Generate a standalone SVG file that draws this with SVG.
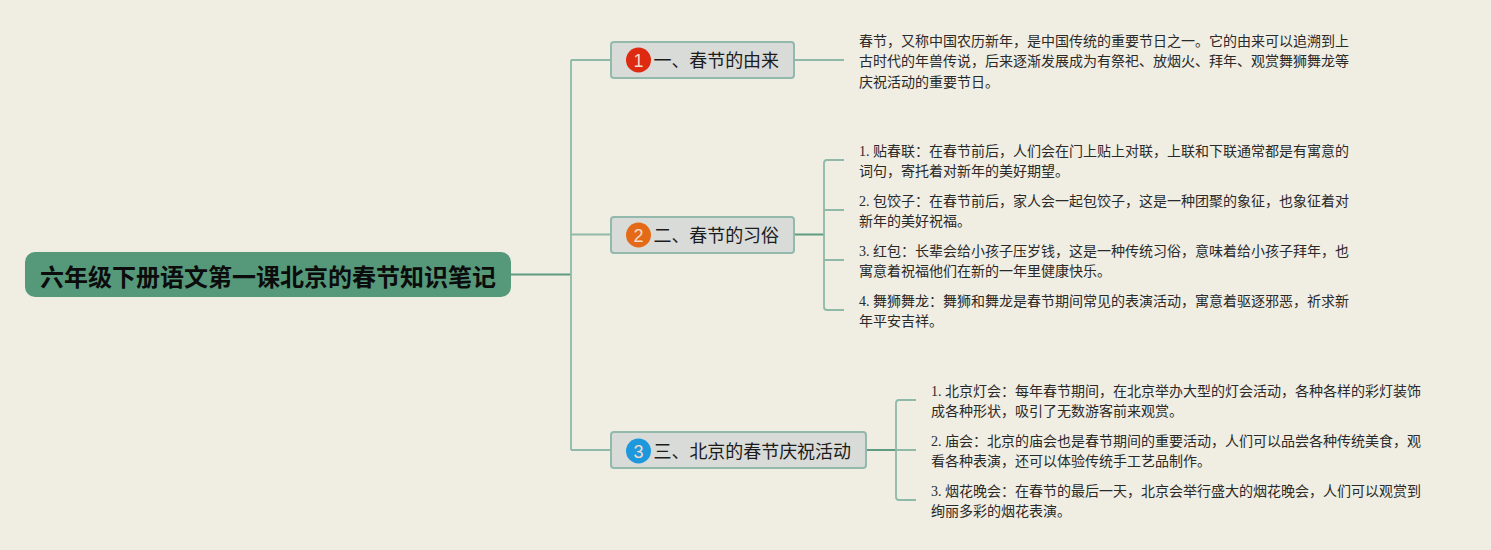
<svg xmlns="http://www.w3.org/2000/svg" width="1491" height="550" viewBox="0 0 1491 550">
<style>
text{font-family:"Liberation Serif","Noto Sans CJK SC",serif}
.root{font-family:"Noto Sans CJK SC",sans-serif;font-size:24px;font-weight:700;fill:#0c0c0c}
.t{font-family:"Noto Sans CJK SC",sans-serif;font-size:18px;fill:#1c1c1c}
.b{fill:#d9dbd9;stroke:#93b9ad;stroke-width:2}
.n{font-size:14px;fill:#2a2a2a}
.num{font-family:"Liberation Sans",sans-serif;font-size:18px;fill:#f3dccb;text-anchor:middle}
.c{fill:none;stroke:#8fb9a8;stroke-width:1.8}
.d{fill:none;stroke:#5f9a82;stroke-width:2}
</style>
<rect width="1491" height="550" fill="#f0ede2"/>
<g id="connectors">
<path class="d" d="M511 274.500H571"/>
<path class="c" d="M571 60V450M571 60H611M571 234.500H611M571 450H611"/>
<path class="c" d="M795 60H844"/>
<path class="d" d="M795 234.500H824"/>
<path class="c" d="M844 160H827Q824 160 824 163V307Q824 310 827 310H844M824 210H844M824 260H844"/>
<path class="d" d="M867 450H896"/>
<path class="c" d="M916 400H899Q896 400 896 403V497Q896 500 899 500H916M896 450H916"/>
</g>
<g id="root"><rect x="25" y="252" width="486" height="45" rx="10" fill="#56987a"/><text class="root" x="40" y="286" textLength="456">六年级下册语文第一课北京的春节知识笔记</text></g>
<g id="topic1"><rect class="b" x="611" y="42" width="183" height="36" rx="3"/><circle cx="638.500" cy="60" r="12.500" fill="#de2a10"/><text class="num" x="638.500" y="66.500">1</text><text class="t" x="653.500" y="67" textLength="125.500">一、春节的由来</text></g>
<g id="topic2"><rect class="b" x="611" y="217" width="183" height="36" rx="3"/><circle cx="638.500" cy="235" r="12.500" fill="#e56a17"/><text class="num" x="638.500" y="241.500">2</text><text class="t" x="653.500" y="242" textLength="125.500">二、春节的习俗</text></g>
<g id="topic3"><rect class="b" x="611" y="432" width="255" height="36" rx="3"/><circle cx="638.500" cy="451" r="12.500" fill="#1e98dc"/><text class="num" x="638.500" y="457.500">3</text><text class="t" x="653.500" y="458" textLength="197.500">三、北京的春节庆祝活动</text></g>
<g id="note1" class="n"><text x="859" y="46" textLength="490">春节，又称中国农历新年，是中国传统的重要节日之一。它的由来可以追溯到上</text><text x="859" y="66" textLength="490">古时代的年兽传说，后来逐渐发展成为有祭祀、放烟火、拜年、观赏舞狮舞龙等</text><text x="859" y="87">庆祝活动的重要节日。</text></g>
<g id="note2" class="n"><text x="859" y="156" textLength="490">1. 贴春联：在春节前后，人们会在门上贴上对联，上联和下联通常都是有寓意的</text><text x="859" y="176">词句，寄托着对新年的美好期望。</text><text x="859" y="206" textLength="490">2. 包饺子：在春节前后，家人会一起包饺子，这是一种团聚的象征，也象征着对</text><text x="859" y="226">新年的美好祝福。</text><text x="859" y="256" textLength="490">3. 红包：长辈会给小孩子压岁钱，这是一种传统习俗，意味着给小孩子拜年，也</text><text x="859" y="276">寓意着祝福他们在新的一年里健康快乐。</text><text x="859" y="306" textLength="490">4. 舞狮舞龙：舞狮和舞龙是春节期间常见的表演活动，寓意着驱逐邪恶，祈求新</text><text x="859" y="326">年平安吉祥。</text></g>
<g id="note3" class="n"><text x="931" y="396" textLength="490">1. 北京灯会：每年春节期间，在北京举办大型的灯会活动，各种各样的彩灯装饰</text><text x="931" y="416">成各种形状，吸引了无数游客前来观赏。</text><text x="931" y="446" textLength="490">2. 庙会：北京的庙会也是春节期间的重要活动，人们可以品尝各种传统美食，观</text><text x="931" y="466">看各种表演，还可以体验传统手工艺品制作。</text><text x="931" y="496" textLength="490">3. 烟花晚会：在春节的最后一天，北京会举行盛大的烟花晚会，人们可以观赏到</text><text x="931" y="516">绚丽多彩的烟花表演。</text></g>
</svg>
